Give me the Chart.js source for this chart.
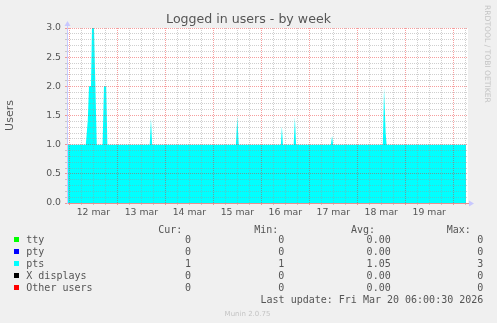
<!DOCTYPE html>
<html>
<head>
<meta charset="utf-8">
<script src="https://cdn.jsdelivr.net/npm/chart.js@4/dist/chart.umd.min.js"></script>
<style>
  html, body { margin: 0; padding: 0; background: #f0f0f0; }
  canvas { display: block; }
</style>
</head>
<body>
<canvas id="usersChart" width="497" height="323"></canvas>
<script>
// hours counted from 12 mar 00:00
const ptsHours = [-1.2, 8.2, 9.2, 9.8, 10.8, 11.3, 12.3, 13.0, 13.7,
    16.6, 17.3, 18.4, 19.0,
    40.2, 40.8, 41.4,
    83.3, 84.0, 84.7,
    105.8, 106.3, 106.8,
    112.2, 112.8, 113.4,
    130.8, 131.4, 131.9,
    156.8, 157.4, 158.2, 158.7,
    198.4];
const ptsUsers = [1, 1, 1.42, 2, 2, 3, 3, 2, 1,
    1, 2, 2, 1,
    1, 1.45, 1,
    1, 1.48, 1,
    1, 1.31, 1,
    1, 1.47, 1,
    1, 1.15, 1,
    1, 1.97, 1.2, 1,
    1];
const dayLabels = ['12 mar', '13 mar', '14 mar', '15 mar', '16 mar', '17 mar', '18 mar', '19 mar'];

// legend table
const legendNames = ['tty', 'pty', 'pts', 'X displays', 'Other users'];
const legendColors = ['#00ff00', '#0000ff', '#00ffff', '#000000', '#ff0000'];
const curValues = [0, 0, 1, 0, 0];
const minValues = [0, 0, 1, 0, 0];
const avgValues = [0, 0, 1.05, 0, 0];
const maxValues = [0, 0, 3, 0, 0];
const lastUpdate = 'Last update: Fri Mar 20 06:00:30 2026';

const MAJOR = 'rgba(235,40,40,0.45)';
const MINOR = 'rgba(155,155,155,0.48)';
const TEXT = '#555555';

Chart.defaults.font.family = "'DejaVu Sans', sans-serif";

const muninDecor = {
    id: 'muninDecor',
    beforeDraw(chart) {
        const { ctx, chartArea: a } = chart;
        ctx.save();
        ctx.fillStyle = '#ffffff';
        ctx.fillRect(a.left, a.top, a.right - a.left, a.bottom - a.top);
        ctx.restore();
    },
    afterDraw(chart) {
        const { ctx, chartArea: a } = chart;
        ctx.save();

        // title
        ctx.fillStyle = TEXT;
        ctx.font = "12.6px 'DejaVu Sans'";
        ctx.textAlign = 'center';
        ctx.textBaseline = 'alphabetic';
        ctx.fillText('Logged in users - by week', 248.5, 23);

        // axis arrows
        ctx.fillStyle = '#c8c8ff';
        ctx.strokeStyle = '#c8c8ff';
        ctx.lineWidth = 1;
        ctx.beginPath();
        ctx.moveTo(a.left + 0.5, a.top);
        ctx.lineTo(a.left + 0.5, 25);
        ctx.stroke();
        ctx.beginPath();
        ctx.moveTo(a.left + 0.5, 21);
        ctx.lineTo(a.left - 2.5, 26);
        ctx.lineTo(a.left + 3.5, 26);
        ctx.closePath();
        ctx.fill();
        ctx.beginPath();
        ctx.moveTo(474, a.bottom + 0.5);
        ctx.lineTo(469, a.bottom - 2.5);
        ctx.lineTo(469, a.bottom + 3.5);
        ctx.closePath();
        ctx.fill();

        // watermark
        ctx.save();
        ctx.translate(487, 5);
        ctx.rotate(Math.PI / 2);
        ctx.fillStyle = '#c4c4c4';
        ctx.font = "7.6px 'DejaVu Sans'";
        ctx.textAlign = 'left';
        ctx.textBaseline = 'middle';
        ctx.fillText('RRDTOOL / TOBI OETIKER', 0, 0);
        ctx.restore();

        // legend table
        ctx.font = "10px 'DejaVu Sans Mono'";
        ctx.fillStyle = TEXT;
        ctx.textBaseline = 'alphabetic';
        ctx.textAlign = 'left';
        const headY = 232.8;
        ctx.fillText('Cur:', 158.3, headY);
        ctx.fillText('Min:', 254.3, headY);
        ctx.fillText('Avg:', 351, headY);
        ctx.fillText('Max:', 446.7, headY);

        const rowY = [243, 254.9, 267.1, 279.3, 291];
        legendNames.forEach((name, i) => {
            const y = rowY[i];
            ctx.fillStyle = legendColors[i];
            ctx.fillRect(14, Math.round(y) - 6, 5, 5);
            ctx.fillStyle = TEXT;
            ctx.textAlign = 'left';
            ctx.fillText(name, 26.3, y);
            ctx.textAlign = 'right';
            ctx.fillText(String(curValues[i]), 191, y);
            ctx.fillText(String(minValues[i]), 284.3, y);
            ctx.fillText(avgValues[i].toFixed(2), 390.7, y);
            ctx.fillText(String(maxValues[i]), 483.3, y);
        });
        ctx.textAlign = 'right';
        ctx.fillText(lastUpdate, 483.3, 303.3);

        // footer
        ctx.fillStyle = '#c4c4c4';
        ctx.font = "7px 'DejaVu Sans'";
        ctx.textAlign = 'center';
        ctx.fillText('Munin 2.0.75', 247.5, 316);

        ctx.restore();
    }
};

function isMultiple(v, step) {
    const r = v / step;
    return Math.abs(r - Math.round(r)) < 1e-6;
}

new Chart(document.getElementById('usersChart'), {
    type: 'line',
    data: {
        datasets: [{
            label: 'pts',
            data: ptsHours.map((h, i) => ({ x: h, y: ptsUsers[i] })),
            fill: 'origin',
            backgroundColor: '#00ffff',
            borderColor: 'rgba(0,0,0,0)',
            borderWidth: 0,
            pointRadius: 0,
            tension: 0
        }]
    },
    options: {
        responsive: false,
        animation: false,
        events: [],
        layout: { padding: { top: 28, right: 29, bottom: 0, left: 0 } },
        plugins: {
            legend: { display: false },
            tooltip: { enabled: false },
            title: { display: false }
        },
        scales: {
            x: {
                type: 'linear',
                min: -1.2,
                max: 199.4,
                afterFit: function (scale) { scale.height = 120; },
                ticks: {
                    stepSize: 6,
                    includeBounds: false,
                    autoSkip: false,
                    maxRotation: 0,
                    padding: 2,
                    color: TEXT,
                    font: { size: 9.3 },
                    callback: function (value) {
                        if (isMultiple(value - 12, 24)) {
                            return dayLabels[Math.round((value - 12) / 24)] || '';
                        }
                        return '';
                    }
                },
                grid: {
                    color: ctx => isMultiple(ctx.tick.value, 24) ? MAJOR : MINOR,
                    lineWidth: 1,
                    drawTicks: true,
                    tickLength: 2,
                    z: 1
                },
                border: { color: '#e89090', dash: [1, 1], z: 2 }
            },
            y: {
                min: 0,
                max: 3,
                afterFit: function (scale) { scale.width = 67; },
                ticks: {
                    stepSize: 0.1,
                    autoSkip: false,
                    padding: 4,
                    color: TEXT,
                    font: { size: 9.3 },
                    callback: function (value) {
                        return isMultiple(value, 0.5) ? value.toFixed(1) : '';
                    }
                },
                grid: {
                    color: ctx => isMultiple(ctx.tick.value, 0.5) ? MAJOR : MINOR,
                    lineWidth: 1,
                    drawTicks: true,
                    tickLength: 2,
                    z: 1
                },
                border: { color: '#c8c8ff', dash: [1, 1], z: 2 },
                title: {
                    display: true,
                    text: 'Users',
                    color: TEXT,
                    font: { size: 11 },
                    padding: { top: 4, bottom: 0 }
                }
            }
        }
    },
    plugins: [muninDecor]
});
</script>
</body>
</html>
